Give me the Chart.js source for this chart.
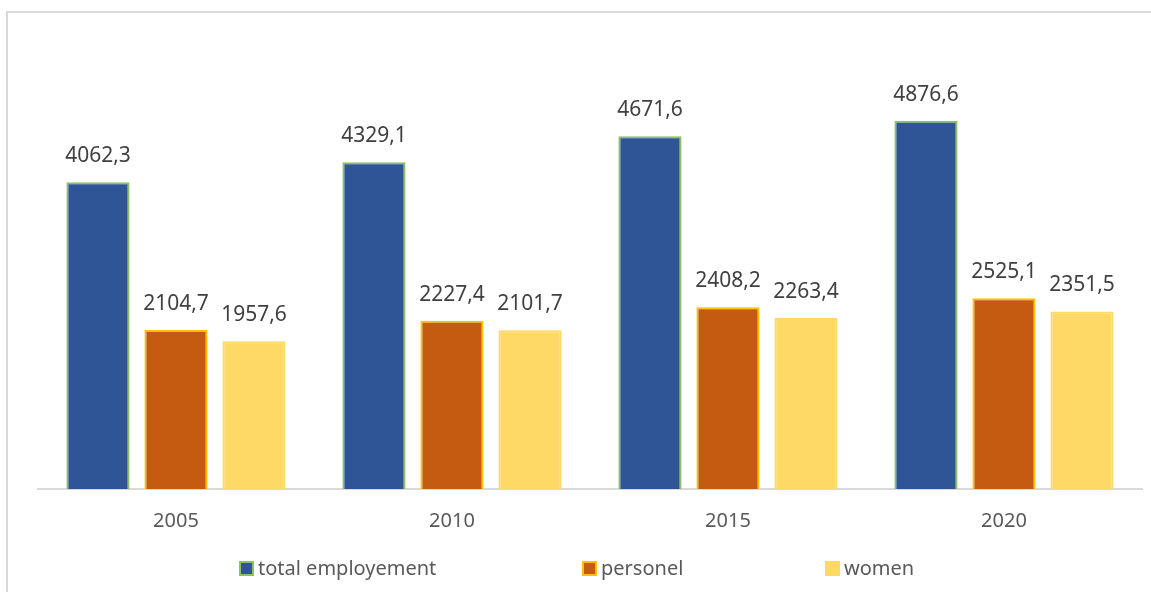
<!DOCTYPE html>
<html>
<head>
<meta charset="utf-8">
<script src="https://cdn.jsdelivr.net/npm/chart.js@4.4.0/dist/chart.umd.min.js"></script>
<style>
  body { margin: 0; background: #fff; }
  #wrap { position: relative; width: 1151px; height: 592px; }
  #frame { position: absolute; left: 6px; top: 11px; width: 1160px; height: 600px; border-left: 2px solid #d9d9d9; border-top: 2px solid #d9d9d9; }
  #legend { position: absolute; top: 554px; left: 0; width: 1151px; height: 28px; font-family: "Noto Sans", sans-serif; font-size: 20px; color: #595959; }
  .item { position: absolute; top: 0; white-space: nowrap; }
  .box { display: inline-block; width: 11px; height: 11px; margin-right: 4px; vertical-align: -1px; border: 2px solid; }
</style>
</head>
<body>
<div id="wrap">
  <div id="frame"></div>
  <canvas id="grafico" width="1151" height="592"></canvas>
  <div id="legend"></div>
</div>
<script>
const categorias = ['2005', '2010', '2015', '2020'];
const total_employement = [4062.3, 4329.1, 4671.6, 4876.6];
const personel = [2104.7, 2227.4, 2408.2, 2525.1];
const women = [1957.6, 2101.7, 2263.4, 2351.5];

const series = [
    { nome: 'total employement', valores: total_employement, cor: '#2f5597', borda: '#8cc063' },
    { nome: 'personel', valores: personel, cor: '#c55a11', borda: '#ffc000' },
    { nome: 'women', valores: women, cor: '#ffd966', borda: '#ffd966' }
];

// rótulos em cima das barras, com vírgula decimal
const rotulos = {
    id: 'rotulos',
    afterDatasetsDraw(chart) {
        const ctx = chart.ctx;
        ctx.save();
        ctx.font = '21px "Noto Sans", sans-serif';
        ctx.fillStyle = '#404040';
        ctx.textAlign = 'center';
        ctx.textBaseline = 'middle';
        chart.data.datasets.forEach((ds, i) => {
            chart.getDatasetMeta(i).data.forEach((bar, j) => {
                ctx.fillText(ds.data[j].toFixed(1).replace('.', ','), bar.x, bar.y - 26);
            });
        });
        ctx.restore();
    }
};

const ctx = document.getElementById('grafico').getContext('2d');
new Chart(ctx, {
    type: 'bar',
    data: {
        labels: categorias,
        datasets: series.map(s => ({
            label: s.nome,
            data: s.valores,
            backgroundColor: s.cor,
            borderColor: s.borda,
            borderWidth: 2,
            categoryPercentage: 0.848,
            barPercentage: 0.81
        }))
    },
    options: {
        responsive: false,
        animation: false,
        layout: { padding: { left: 38, right: 9, top: 36, bottom: 39 } },
        plugins: {
            legend: { display: false },
            tooltip: { enabled: false }
        },
        scales: {
            x: {
                grid: { display: false, drawTicks: false },
                border: { display: true, color: '#d9d9d9', width: 2 },
                ticks: { color: '#595959', padding: 20, font: { family: '"Noto Sans", sans-serif', size: 20 } }
            },
            y: {
                display: false,
                beginAtZero: true,
                max: 6000
            }
        }
    },
    plugins: [rotulos]
});

// legenda em html, posições como no original
const posicoes = [239, 582, 825];
const legenda = document.getElementById('legend');
series.forEach((s, i) => {
    const item = document.createElement('div');
    item.className = 'item';
    item.style.left = posicoes[i] + 'px';
    item.innerHTML = '<span class="box" style="background:' + s.cor + ';border-color:' + s.borda + '"></span>' + s.nome;
    legenda.appendChild(item);
});
</script>
</body>
</html>
